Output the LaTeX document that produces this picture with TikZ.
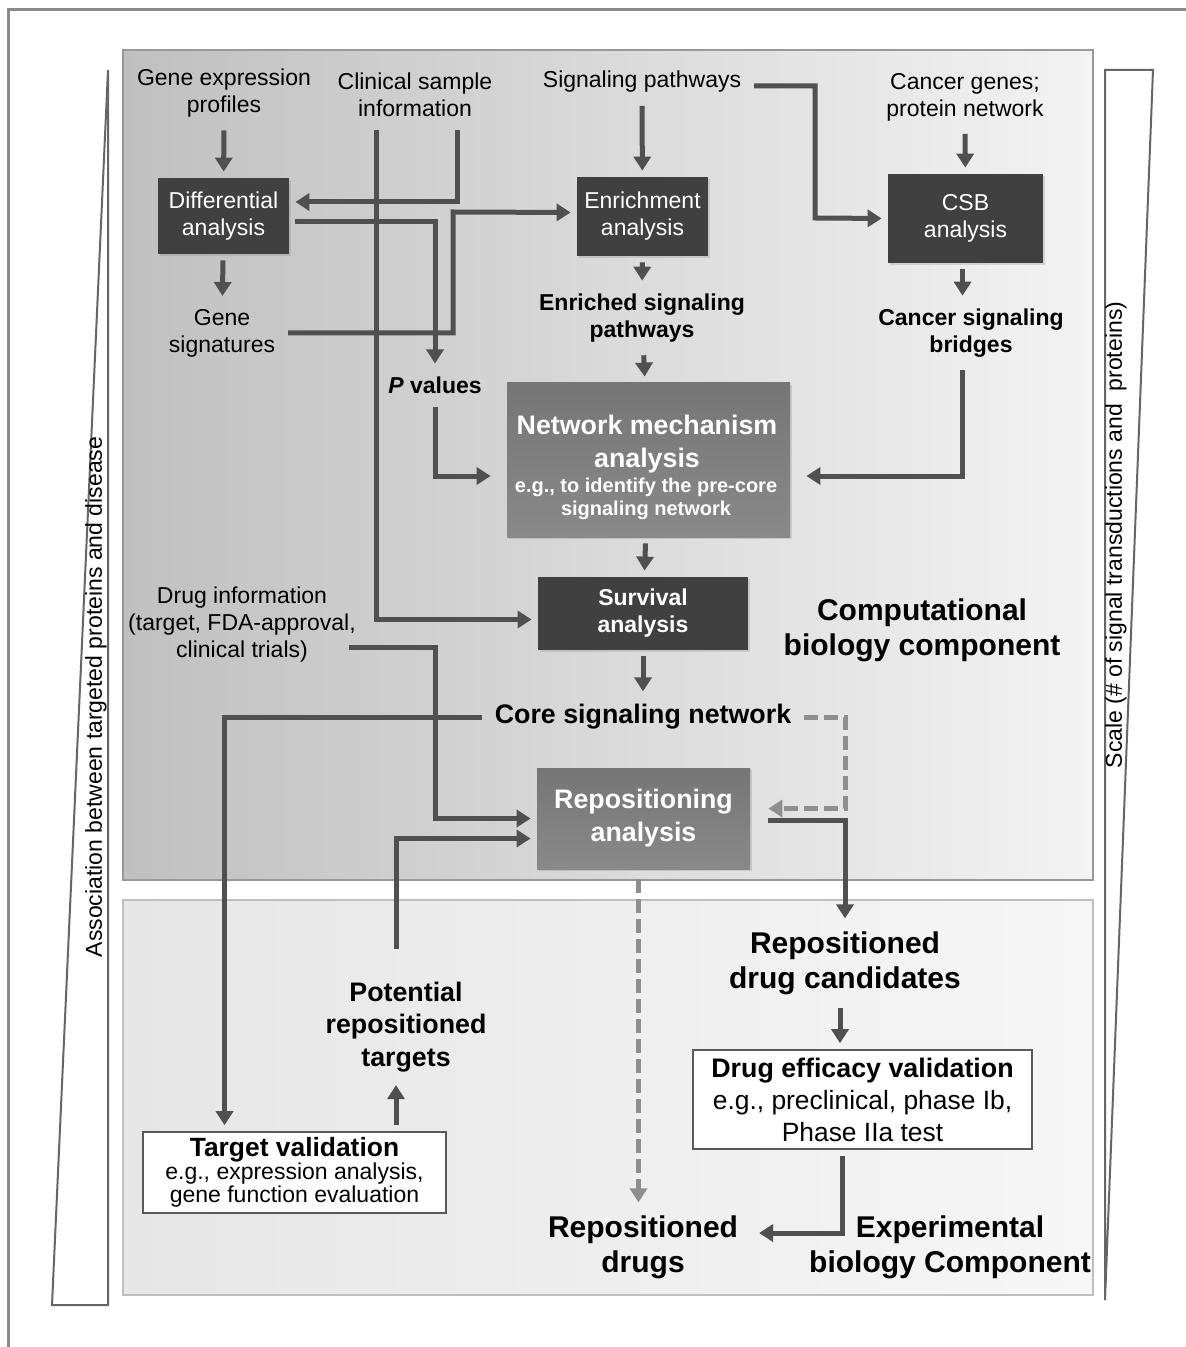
\documentclass[tikz,border=0pt]{standalone}
\usepackage{fontspec}
\setmainfont{Liberation Sans}
\usepackage{tikz}
\usetikzlibrary{shapes,arrows.meta,positioning,calc,shadows}
\usepackage{xcolor}

\definecolor{boxdark}{HTML}{404040}
\definecolor{boxmid}{HTML}{7C7C7C}
\definecolor{arrowgray}{HTML}{505050}
\definecolor{dashgray}{HTML}{8E8E8E}
\definecolor{framegray}{HTML}{8A8A8A}
\definecolor{paneldark}{HTML}{C0C0C0}
\definecolor{panellight}{HTML}{F3F3F3}
\definecolor{lowerleft}{HTML}{E6E6E6}
\definecolor{lowerright}{HTML}{F6F6F6}

\newcommand{\txtnorm}{\fontsize{11.5}{13.5}\selectfont}
\newcommand{\txtbig}{\fontsize{13.4}{16.5}\selectfont}
\newcommand{\txthuge}{\fontsize{15}{17.5}\selectfont}
\newcommand{\txtsmall}{\fontsize{10}{11.5}\selectfont}

\begin{document}
\begin{tikzpicture}[x=0.5pt, y=-0.5pt, every node/.style={font=\txtnorm, align=center}]
    \tikzstyle{darkbox} = [rectangle, fill=boxdark, text=white, inner sep=2pt, drop shadow={opacity=0.25, shadow xshift=1pt, shadow yshift=-1pt}]
    \tikzstyle{midbox} = [rectangle, top color=boxmid!95!black, bottom color=boxmid!90!white, text=white, inner sep=2pt, drop shadow={opacity=0.25, shadow xshift=1pt, shadow yshift=-1pt}]
    \tikzstyle{whitebox} = [rectangle, draw=black!65, line width=0.8pt, fill=white, inner sep=2pt]
    \tikzstyle{label} = [font=\txtnorm\bfseries]
    \tikzstyle{arrow} = [draw=arrowgray, line width=2.5pt, -{Triangle[length=7pt, width=8.5pt]}, shorten >=3pt, shorten <=3pt]
    \tikzstyle{dasharrow} = [arrow, draw=dashgray, dash pattern=on 7pt off 3pt]
    \tikzstyle{wedge} = [draw=black!60, line width=1pt, fill=white]

    \useasboundingbox (0,0) rectangle (1186,1347);

    % outer frame, cut by the page on the right and at the bottom
    \draw[framegray, line width=1.5pt] (8,1360) -- (8,10) -- (1200,10);

    % the two panels
    \draw[draw=black!40, line width=0.8pt, left color=paneldark, right color=panellight] (123,50) rectangle (1093,880);
    \draw[draw=black!25, line width=0.8pt, left color=lowerleft, right color=lowerright] (123,900) rectangle (1093,1295);

    % side wedges
    \draw[wedge] (108,70) -- (108,1305) -- (52,1305) -- cycle;
    \node[rotate=90] (assoc) at (96,697) {Association between targeted proteins and disease};
    \draw[wedge] (1105,70) -- (1153,70) -- (1105,1300) -- cycle;
    \node[rotate=90] (scale) at (1116,535) {Scale (\# of signal transductions and\ \ proteins)};

    % inputs
    \node (geneexp) at (224,93) {Gene expression\\profiles};
    \node (clinical) at (415,95) {Clinical sample\\information};
    \node (sigpath) at (642,82) {Signaling pathways};
    \node (cancergenes) at (965,97) {Cancer genes;\\protein network};

    % analysis boxes
    \node[darkbox, minimum width=65.5pt, minimum height=38pt] (diff) at (223.5,216) {Differential\\analysis};
    \node[darkbox, minimum width=65.5pt, minimum height=39.5pt] (enrich) at (642.5,216.5) {Enrichment\\analysis};
    \node[darkbox, minimum width=77.5pt, minimum height=44.5pt] (csb) at (965.5,218.5) {CSB\\analysis};

    \node (genesig) at (222,333) {Gene\\signatures};
    \node[label] (enriched) at (642,318) {Enriched signaling\\pathways};
    \node[label] (bridges) at (971,333) {Cancer signaling\\bridges};
    \node[label] (pval) at (435,385) {\textit{P} values};

    \node[midbox, minimum width=141.5pt, minimum height=77pt] (nma) at (648.5,460) {};
    \node[font=\txtbig\bfseries, text=white] (nmatitle) at (647,444) {Network mechanism\\analysis};
    \node[font=\txtsmall\bfseries, text=white] (nmanote) at (646,499) {e.g., to identify the pre-core\\signaling network};
    \node[darkbox, font=\txtnorm\bfseries, minimum width=105pt, minimum height=36.5pt] (surv) at (643,613.5) {Survival\\analysis};
    \node[font=\txthuge\bfseries] (comp) at (922,630) {Computational\\biology component};
    \node (druginfo) at (242,625) {Drug information\\(target, FDA-approval,\\clinical trials)};
    \node[font=\txtbig\bfseries] (core) at (643,717) {Core signaling network};
    \node[midbox, font=\txtbig\bfseries, minimum width=106.5pt, minimum height=50.5pt] (repos) at (643.5,818.5) {Repositioning\\analysis};

    % experimental part
    \node[font=\txthuge\bfseries] (candidates) at (845,963) {Repositioned\\drug candidates};
    \node[font=\fontsize{13.4}{16.25}\selectfont\bfseries] (pottargets) at (406,1027) {Potential\\repositioned\\targets};
    \node[whitebox, minimum width=169.5pt, minimum height=49.5pt, font=\fontsize{13.2}{16}\selectfont] (drugval) at (862.5,1099.5)
        {\fontsize{13.4}{16}\selectfont\bfseries Drug efficacy validation\\e.g., preclinical, phase Ib,\\Phase IIa test};
    \node[whitebox, minimum width=151.5pt, minimum height=40.5pt, font=\fontsize{11.5}{11.5}\selectfont] (targval) at (294.5,1172.5)
        {\fontsize{13.2}{12.5}\selectfont\bfseries Target validation\\e.g., expression analysis,\\gene function evaluation};
    \node[font=\txthuge\bfseries] (repdrugs) at (643,1247) {Repositioned\\drugs};
    \node[font=\txthuge\bfseries] (expbio) at (950,1247) {Experimental\\biology Component};

    % connectors of the computational part
    \draw[arrow] (geneexp) -- (diff);
    \draw[arrow] (diff) -- (genesig);
    \draw[arrow] ([xshift=21pt]clinical.south) |- ([yshift=7pt]diff.east);
    \draw[arrow] ([xshift=-19.5pt]clinical.south) |- ([yshift=-3pt]surv.west);
    \draw[arrow] ([yshift=-3pt]diff.east) -| (pval.north);
    \draw[arrow] (genesig.east) -| (453,212) -- ([yshift=2pt]enrich.west);
    \draw[arrow] (sigpath) -- (enrich);
    \draw[arrow] ([yshift=-2pt]sigpath.east) -| (815,218) -- (csb.west);
    \draw[arrow] (cancergenes) -- (csb);
    \draw[arrow] (enrich) -- (enriched);
    \draw[arrow] (enriched) -- (nma);
    \draw[arrow] ([xshift=-1.5pt]csb.south) -- ([xshift=-1.5pt]csb.south |- bridges.north);
    \draw[arrow, shorten >=8pt] ([xshift=-4.5pt]bridges.south) |- ([yshift=-8pt]nma.east);
    \draw[arrow, shorten >=8pt] (pval.south) |- ([yshift=-8pt]nma.west);
    \draw[arrow] (nma) -- (surv);
    \draw[arrow] (surv) -- (core);

    % connectors towards repositioning
    \draw[arrow] (core.west) -| ([xshift=-35pt]targval.north);
    \draw[arrow] ([xshift=-10pt, yshift=-11pt]druginfo.east) -| ([xshift=-50.5pt]repos.west) -- (repos.west);
    \draw[arrow] ([xshift=-5pt, yshift=10pt]pottargets.north) |- ([yshift=-10pt]repos.west);
    \draw[arrow] ([xshift=-5pt]pottargets.south |- targval.north) -- ([xshift=-5pt]pottargets.south);
    \draw[dasharrow, shorten >=9pt] (core.east) -| ([xshift=47.5pt, yshift=5pt]repos.east) -- ([yshift=5pt]repos.east);
    \draw[arrow, shorten <=9pt] ([yshift=-1pt]repos.east) -| (candidates.north);
    \draw[dasharrow, shorten <=5pt] ([xshift=-2.5pt]repos.south) -- ([xshift=-2.5pt]repos.south |- repdrugs.north);
    \draw[arrow] ([xshift=-2.5pt]candidates.south) -- ([xshift=-2.5pt]candidates.south |- drugval.north);
    \draw[arrow, shorten >=7pt] ([xshift=-10pt]drugval.south) |- ([yshift=7pt]repdrugs.east);
\end{tikzpicture}
\end{document}
